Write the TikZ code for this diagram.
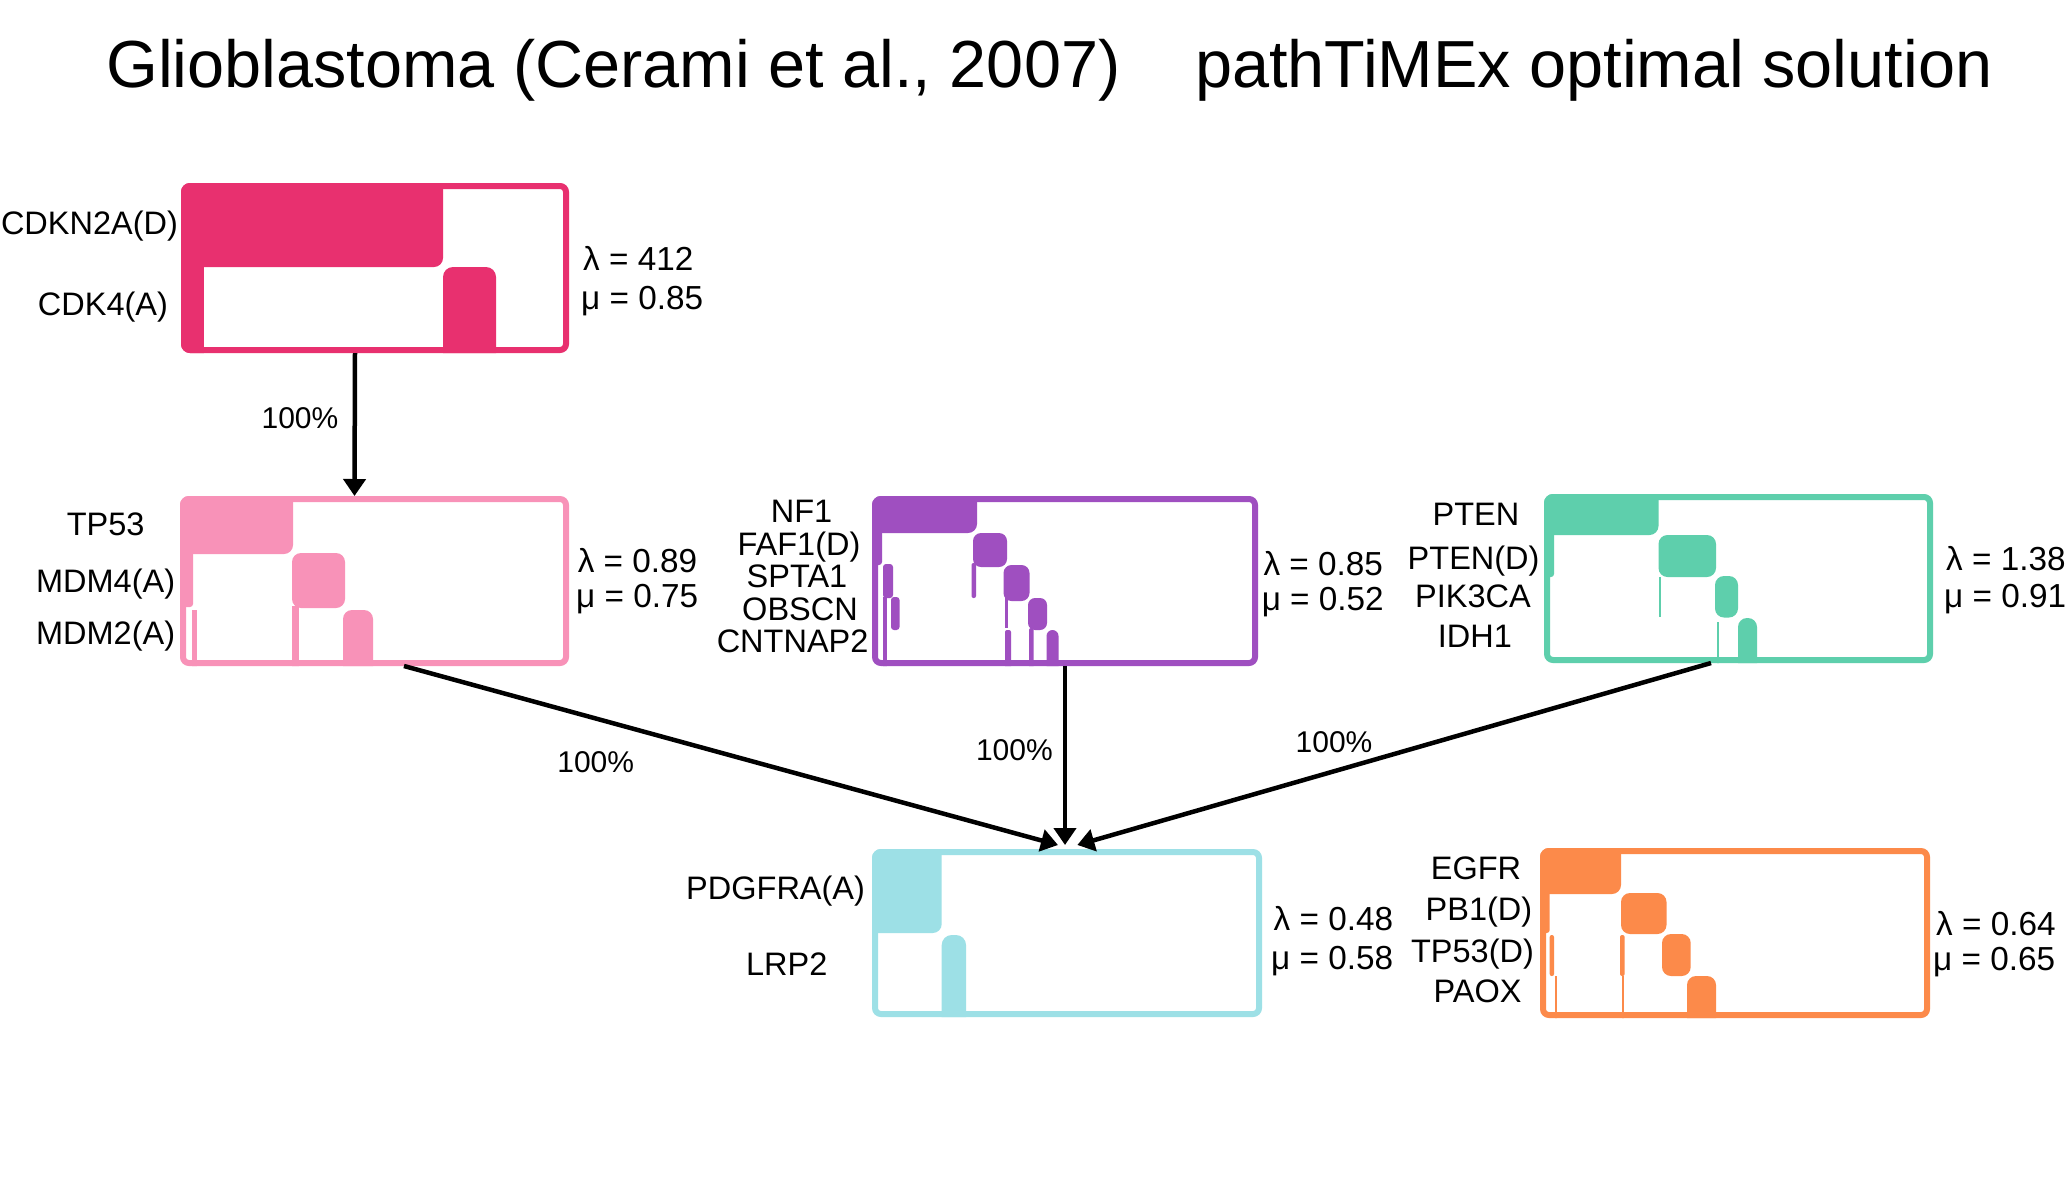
\documentclass[tikz,border=0pt]{standalone}
\usepackage{fontspec}
\setmainfont{Liberation Sans}
\usetikzlibrary{arrows.meta}
\definecolor{cA}{HTML}{E8306F}
\definecolor{cB}{HTML}{F892B8}
\definecolor{cC}{HTML}{9F4FC0}
\definecolor{cD}{HTML}{5ECFAC}
\definecolor{cE}{HTML}{9DE0E6}
\definecolor{cF}{HTML}{FC8A4A}
\begin{document}
\begin{tikzpicture}[x=1pt,y=-1pt,
  gbox/.style={draw, line width=6pt, rounded corners=6pt, inner sep=0pt},
  lab/.style={inner sep=0pt, font=\fontsize{32.5}{38}\selectfont, anchor=base},
  par/.style={inner sep=0pt, font=\fontsize{33.3}{38}\selectfont, anchor=base west},
  pct/.style={inner sep=0pt, font=\fontsize{30}{36}\selectfont},
  ttl/.style={inner sep=0pt, font=\fontsize{66.6}{80}\selectfont, anchor=base west},
  arr/.style={line width=4.5pt, -{Triangle[length=17pt,width=22pt]}},
]
\useasboundingbox (0,0) rectangle (2071,1200);
\fill[white] (0,0) rectangle (2071,1200);

% title
\node[ttl] (t1) at (106,87.3) {Glioblastoma (Cerami et al., 2007)};
\node[ttl] (t2) at (1195,87.3) {pathTiMEx optimal solution};

% boxes
\node[gbox, draw=cA, minimum width=382pt, minimum height=164pt] (b1) at (375,268) {};
\node[gbox, draw=cB, minimum width=383pt, minimum height=164pt] (b2) at (374.5,581) {};
\node[gbox, draw=cC, minimum width=380pt, minimum height=164pt] (b3) at (1065,581) {};
\node[gbox, draw=cD, minimum width=383pt, minimum height=163pt] (b4) at (1738.5,578.5) {};
\node[gbox, draw=cE, minimum width=384pt, minimum height=162pt] (b5) at (1067,933) {};
\node[gbox, draw=cF, minimum width=384pt, minimum height=164pt] (b6) at (1735,933) {};

% box 1 content
\begin{scope}
\clip[rounded corners=9pt] (b1.north west) rectangle (b1.south east);
\fill[cA, rounded corners=9pt] (171,173) rectangle (443,267);
\fill[cA] (171,200) rectangle (204,363);
\fill[cA, rounded corners=10pt] (443,267) rectangle (496,363);
\end{scope}

% box 2 content
\begin{scope}
\clip[rounded corners=9pt] (b2.north west) rectangle (b2.south east);
\fill[cB, rounded corners=9pt] (170,486) rectangle (293,554);
\fill[cB, rounded corners=3pt] (170,540) rectangle (193,607);
\fill[cB] (192,610) rectangle (196.5,676);
\fill[cB, rounded corners=9pt] (292,553) rectangle (345,608);
\fill[cB] (292,606) rectangle (299,676);
\fill[cB, rounded corners=9pt] (343,610) rectangle (373,676);
\end{scope}

% box 3 content
\begin{scope}
\clip[rounded corners=9pt] (b3.north west) rectangle (b3.south east);
\fill[cC, rounded corners=9pt] (862,486) rectangle (977,533);
\fill[cC, rounded corners=3pt] (862,520) rectangle (882,565);
\fill[cC, rounded corners=8pt] (973,533) rectangle (1007,567);
\fill[cC, rounded corners=3pt] (883,564) rectangle (893,598);
\fill[cC, rounded corners=2pt] (971.5,563) rectangle (976,598);
\fill[cC, rounded corners=8pt] (1003.5,565) rectangle (1029.5,601);
\fill[cC] (883,597) rectangle (887,672);
\fill[cC, rounded corners=3pt] (891,597) rectangle (899.5,630);
\fill[cC] (1005,598) rectangle (1008,628);
\fill[cC, rounded corners=7pt] (1028,598) rectangle (1047,630);
\fill[cC, rounded corners=2pt] (1005,630) rectangle (1011,672);
\fill[cC, rounded corners=2pt] (1029,628) rectangle (1033.5,672);
\fill[cC, rounded corners=6pt] (1046.5,630) rectangle (1058.5,672);
\end{scope}

% box 4 content
\begin{scope}
\clip[rounded corners=9pt] (b4.north west) rectangle (b4.south east);
\fill[cD, rounded corners=9pt] (1534,484) rectangle (1658.5,535);
\fill[cD, rounded corners=3pt] (1534,520) rectangle (1554,577);
\fill[cD, rounded corners=9pt] (1658.5,535) rectangle (1716,577);
\fill[cD] (1659,577) rectangle (1661,617);
\fill[cD, rounded corners=9pt] (1715,576) rectangle (1738,617.5);
\fill[cD] (1717,621.7) rectangle (1719,673);
\fill[cD, rounded corners=9pt] (1738,618) rectangle (1757,673);
\end{scope}

% box 5 content
\begin{scope}
\clip[rounded corners=9pt] (b5.north west) rectangle (b5.south east);
\fill[cE, rounded corners=9pt] (862,839) rectangle (941.7,933);
\fill[cE, rounded corners=10pt] (941.7,935) rectangle (966,1027);
\end{scope}

% box 6 content
\begin{scope}
\clip[rounded corners=9pt] (b6.north west) rectangle (b6.south east);
\fill[cF, rounded corners=9pt] (1530,838) rectangle (1621,894);
\fill[cF, rounded corners=3pt] (1530,880) rectangle (1549.7,933);
\fill[cF, rounded corners=9pt] (1621,893) rectangle (1666.5,934);
\fill[cF, rounded corners=2pt] (1549.7,935) rectangle (1554,976);
\fill[cF, rounded corners=2pt] (1620,935) rectangle (1624.6,976);
\fill[cF, rounded corners=9pt] (1662,934) rectangle (1690.7,976);
\fill[cF] (1555,976) rectangle (1557,1028);
\fill[cF] (1622,976) rectangle (1623.7,1028);
\fill[cF, rounded corners=9pt] (1687,976) rectangle (1716,1028);
\end{scope}

% gene labels
\node[lab] (g11) at (89.5,234) {CDKN2A(D)};
\node[lab] (g12) at (103,315.5) {CDK4(A)};
\node[lab] (g21) at (105.6,535.5) {TP53};
\node[lab] (g22) at (105.6,592.5) {MDM4(A)};
\node[lab] (g23) at (105.6,644) {MDM2(A)};
\node[lab] (g31) at (801.6,522.5) {NF1};
\node[lab] (g32) at (799,555.5) {FAF1(D)};
\node[lab] (g33) at (797,587.5) {SPTA1};
\node[lab] (g34) at (800,620.5) {OBSCN};
\node[lab] (g35) at (792.6,652.5) {CNTNAP2};
\node[lab] (g41) at (1476,525.5) {PTEN};
\node[lab] (g42) at (1473.6,569) {PTEN(D)};
\node[lab] (g43) at (1473,607.5) {PIK3CA};
\node[lab] (g44) at (1474.8,647.5) {IDH1};
\node[lab] (g51) at (775.6,899) {PDGFRA(A)};
\node[lab] (g52) at (786.7,975.5) {LRP2};
\node[lab] (g61) at (1476,879) {EGFR};
\node[lab] (g62) at (1479,920.5) {PB1(D)};
\node[lab] (g63) at (1472.5,962.5) {TP53(D)};
\node[lab] (g64) at (1477.5,1002.5) {PAOX};

% parameters
\node[par] (l1) at (583,270.5) {λ = 412};
\node[par] (m1) at (581,309) {μ = 0.85};
\node[par] (l2) at (577.6,572.5) {λ = 0.89};
\node[par] (m2) at (576,607.5) {μ = 0.75};
\node[par] (l3) at (1263.4,575) {λ = 0.85};
\node[par] (m3) at (1261.6,610.5) {μ = 0.52};
\node[par] (l4) at (1946,570.5) {λ = 1.38};
\node[par] (m4) at (1944,607.5) {μ = 0.91};
\node[par] (l5) at (1273.5,930.5) {λ = 0.48};
\node[par] (m5) at (1271,969) {μ = 0.58};
\node[par] (l6) at (1936,935.5) {λ = 0.64};
\node[par] (m6) at (1933,970.5) {μ = 0.65};

% arrows
\draw[arr] ([xshift=-20pt]b1.south) -- ([xshift=-20pt]b2.north);
\draw[arr] ([xshift=29.5pt]b2.south) -- ([shift={(-9pt,4pt)}]b5.north);
\draw[arr] (b3.south) -- ([shift={(-2pt,4pt)}]b5.north);
\draw[arr] ([xshift=-27.5pt]b4.south) -- ([shift={(10.3pt,4pt)}]b5.north);

% percentages
\node[pct] (p1) at (300,418.3) {100\%};
\node[pct] (p2) at (595.7,762) {100\%};
\node[pct] (p3) at (1014.4,750) {100\%};
\node[pct] (p4) at (1334,742) {100\%};
\end{tikzpicture}
\end{document}
